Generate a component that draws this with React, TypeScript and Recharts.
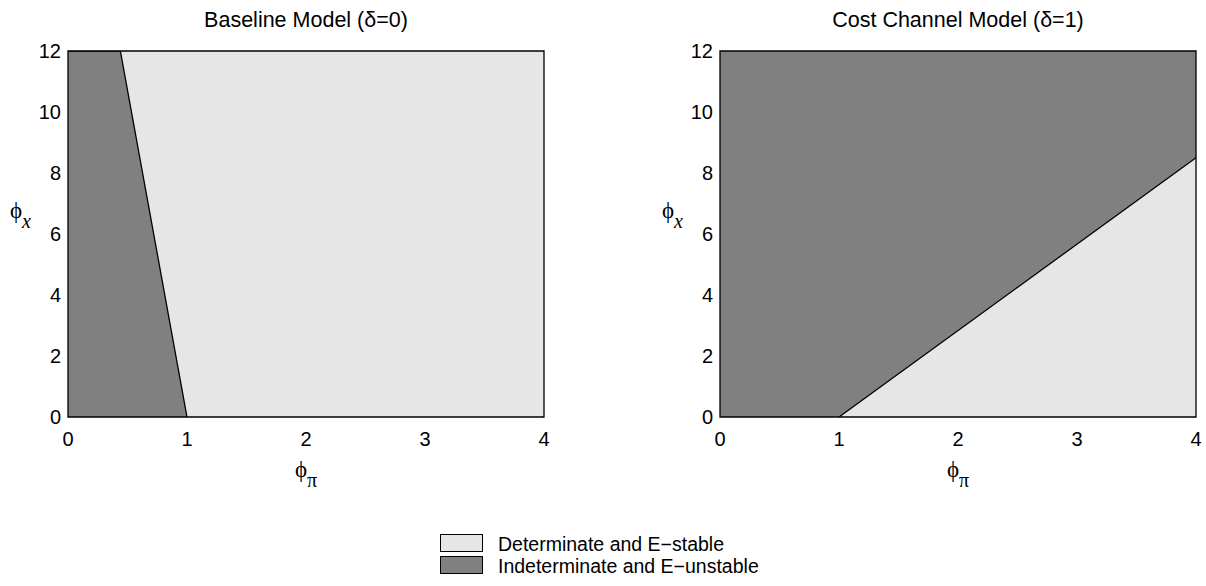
import React from 'react';
import { ComposedChart, Area, XAxis, YAxis, ReferenceArea } from 'recharts';

// ---- data ----
const xTicks = [0, 1, 2, 3, 4];
const yTicks = [0, 2, 4, 6, 8, 10, 12];
// Baseline model: indeterminacy region bounded by this line (from phi_x=12 down to phi_pi=1)
const baselineBoundary = [
  { phiPi: 0, phiX: 12 },
  { phiPi: 0.44, phiX: 12 },
  { phiPi: 1, phiX: 0 },
];
// Cost channel model: determinacy region lies below this line
const costBoundary = [
  { phiPi: 1, phiX: 0 },
  { phiPi: 4, phiX: 8.5 },
];
const panelTitles = ['Baseline Model (δ=0)', 'Cost Channel Model (δ=1)'];
const legendLabels = ['Determinate and E\u2212stable', 'Indeterminate and E\u2212unstable'];

const LIGHT = '#e6e6e6';
const DARK = '#808080';
const SANS = '"Liberation Sans", Arial, Helvetica, sans-serif';
const SERIF = '"Liberation Serif", "Times New Roman", serif';

const CH_W = 603;
const CH_H = 500;

const tickStyle = { fontFamily: SANS, fontSize: 20, fill: '#000' };

function XLabel(props: any) {
  const vb = props.viewBox || {};
  const cx = vb.x + vb.width / 2;
  return (
    <text x={cx} y={vb.y + 60} textAnchor="middle" fontFamily={SERIF} fontSize={23} fill="#000">
      <tspan>{'\u03D5'}</tspan>
      <tspan dy={10} fontSize={20}>π</tspan>
    </text>
  );
}

function YLabel(props: any) {
  const vb = props.viewBox || {};
  return (
    <text x={vb.x + 2} y={218} textAnchor="start" fontFamily={SERIF} fontSize={23} fill="#000">
      <tspan>{'\u03D5'}</tspan>
      <tspan dy={10} fontSize={20} fontStyle="italic">x</tspan>
    </text>
  );
}

type PanelProps = {
  left: number;
  margin: { top: number; right: number; bottom: number; left: number };
  background: string;
  boundary: { phiPi: number; phiX: number }[];
  fill: string;
  title: string;
};

function Panel({ left, margin, background, boundary, fill, title }: PanelProps) {
  const plotLeft = margin.left + 60;
  const plotRight = CH_W - margin.right;
  return (
    <div style={{ position: 'absolute', left, top: 0, width: CH_W, height: CH_H }}>
      <div
        style={{
          position: 'absolute',
          left: plotLeft,
          width: plotRight - plotLeft,
          top: 8,
          textAlign: 'center',
          fontFamily: SANS,
          fontSize: 21.5,
          lineHeight: '24px',
          color: '#000',
          whiteSpace: 'nowrap',
        }}
      >
        {title}
      </div>
      <ComposedChart width={CH_W} height={CH_H} margin={margin}>
        <XAxis
          type="number"
          dataKey="phiPi"
          domain={[0, 4]}
          ticks={xTicks}
          interval={0}
          axisLine={false}
          tickLine={false}
          tickSize={0}
          tickMargin={15}
          tick={tickStyle}
          height={30}
          allowDataOverflow
          label={{ content: (p: any) => <XLabel {...p} /> }}
        />
        <YAxis
          type="number"
          dataKey="phiX"
          domain={[0, 12]}
          ticks={yTicks}
          interval={0}
          axisLine={false}
          tickLine={false}
          tickSize={0}
          tickMargin={7}
          tick={tickStyle}
          width={60}
          allowDataOverflow
          label={{ content: (p: any) => <YLabel {...p} /> }}
        />
        <ReferenceArea x1={0} x2={4} y1={0} y2={12} fill={background} fillOpacity={1} stroke="none" ifOverflow="visible" />
        <Area
          data={boundary}
          type="linear"
          dataKey="phiX"
          baseValue={0}
          fill={fill}
          fillOpacity={1}
          stroke="#000"
          strokeWidth={1.3}
          isAnimationActive={false}
          dot={false}
          activeDot={false}
        />
        <ReferenceArea x1={0} x2={4} y1={0} y2={12} fill="none" stroke="#000" strokeWidth={1.3} ifOverflow="visible" />
      </ComposedChart>
    </div>
  );
}

function LegendBox() {
  const colors = [LIGHT, DARK];
  return (
    <svg
      width={1206}
      height={70}
      style={{ position: 'absolute', left: 0, top: 520 }}
    >
      {legendLabels.map((lab, i) => (
        <g key={lab}>
          <rect x={440.5} y={14.5 + i * 22} width={42} height={17} fill={colors[i]} stroke="#000" strokeWidth={1} />
          <text x={498} y={31 + i * 22} fontFamily={SANS} fontSize={19.5} fill="#000">
            {lab}
          </text>
        </g>
      ))}
    </svg>
  );
}

export default function App() {
  return (
    <div style={{ position: 'absolute', left: 0, top: 0, width: 1206, height: 586, background: '#fff', overflow: 'hidden' }}>
      <Panel
        left={0}
        margin={{ top: 51, right: 59, bottom: 53, left: 8 }}
        background={LIGHT}
        boundary={baselineBoundary}
        fill={DARK}
        title={panelTitles[0]}
      />
      <Panel
        left={603}
        margin={{ top: 51, right: 10, bottom: 53, left: 57 }}
        background={DARK}
        boundary={costBoundary}
        fill={LIGHT}
        title={panelTitles[1]}
      />
      <LegendBox />
    </div>
  );
}
